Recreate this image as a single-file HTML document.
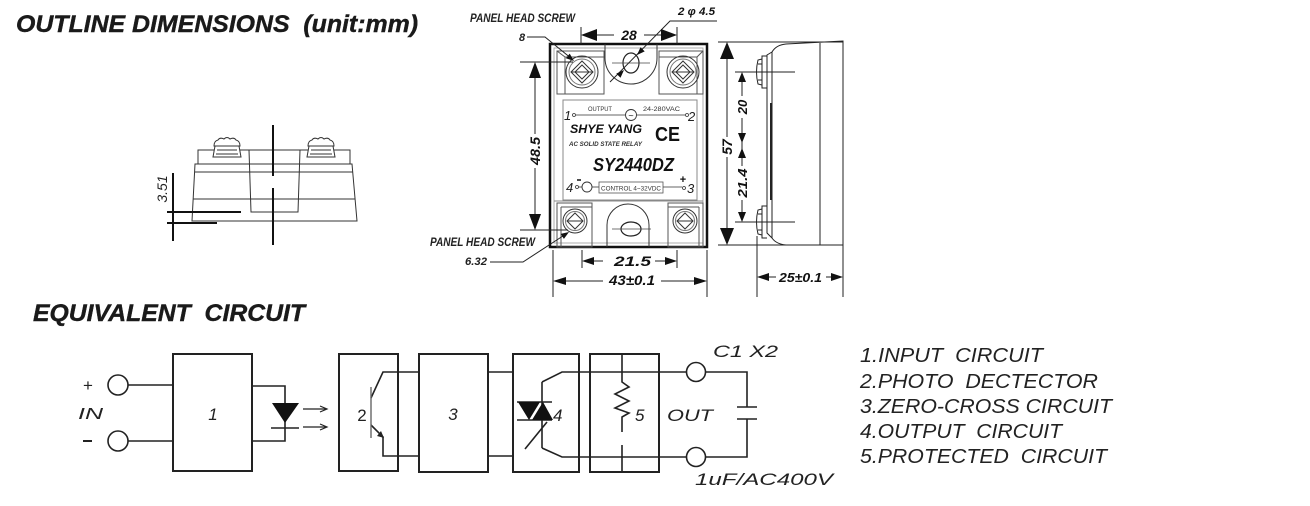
<!DOCTYPE html>
<html><head><meta charset="utf-8"><style>
html,body{margin:0;padding:0;background:#fff;}
svg{display:block;}
text{white-space:pre;}
</style></head><body>
<svg width="1310" height="506" viewBox="0 0 1310 506" xmlns="http://www.w3.org/2000/svg" font-family="'Liberation Sans', Arial, sans-serif">
<rect width="1310" height="506" fill="#fff"/>

<!-- Titles -->
<text x="16" y="32" font-size="24" font-weight="bold" font-style="italic" fill="#1a1a1a" stroke="#1a1a1a" stroke-width="0.4" textLength="402" lengthAdjust="spacingAndGlyphs">OUTLINE DIMENSIONS  (unit:mm)</text>
<text x="33" y="321" font-size="24" font-weight="bold" font-style="italic" fill="#1a1a1a" stroke="#1a1a1a" stroke-width="0.4" textLength="272" lengthAdjust="spacingAndGlyphs">EQUIVALENT  CIRCUIT</text>

<!-- ===== Left side view ===== -->
<g fill="none" stroke="#333" stroke-width="1">
  <path d="M198,164 L198,150 L350,150 L350,164"/>
  <path d="M195,164 L352,164 L357,221 L192,221 Z"/>
  <path d="M195,172 L353,172"/>
  <path d="M193,199 L355,199"/>
  <path d="M249,150 L251,212 L298,212 L300,150"/>
</g>
<g fill="#fff" stroke="#333" stroke-width="1">
  <g transform="translate(227,137)">
    <path d="M-12,9 L-14,20 L14,20 L12,9 Z"/>
    <path d="M-10,13 L10,13 M-11,17 L11,17"/>
    <path d="M-13,9 Q-13,4 -9,3 Q-7,0 -3,2 Q0,-1 3,2 Q7,0 9,3 Q13,4 13,9 Z"/>
  </g>
  <g transform="translate(321,137)">
    <path d="M-12,9 L-14,20 L14,20 L12,9 Z"/>
    <path d="M-10,13 L10,13 M-11,17 L11,17"/>
    <path d="M-13,9 Q-13,4 -9,3 Q-7,0 -3,2 Q0,-1 3,2 Q7,0 9,3 Q13,4 13,9 Z"/>
  </g>
</g>
<g stroke="#111" stroke-width="2">
  <line x1="273" y1="125" x2="273" y2="176"/>
  <line x1="273" y1="188" x2="273" y2="245"/>
  <line x1="167" y1="212" x2="241" y2="212"/>
  <line x1="167" y1="223" x2="217" y2="223"/>
  <line x1="173" y1="173" x2="173" y2="241"/>
</g>
<text transform="translate(167,189) rotate(-90)" text-anchor="middle" font-size="14" font-style="italic" fill="#222">3.51</text>

<!-- ===== Front view ===== -->
<rect x="550" y="44" width="157" height="203" fill="none" stroke="#111" stroke-width="2.5"/>
<rect x="554" y="48" width="149" height="195" fill="none" stroke="#999" stroke-width="0.8"/>

<!-- top blocks -->
<g fill="none" stroke="#555" stroke-width="1">
  <rect x="557" y="51" width="47" height="43"/>
  <path d="M557,51 L565,57 L565,94 M565,57 L604,57"/>
  <rect x="659" y="51" width="44" height="43"/>
  <path d="M703,51 L697,57 L697,94 M659,57 L697,57"/>
</g>
<!-- top tab -->
<path d="M605,44 L605,58 A26,26 0 0 0 657,58 L657,44" fill="none" stroke="#333" stroke-width="1"/>
<ellipse cx="631" cy="63" rx="8" ry="10" fill="none" stroke="#222" stroke-width="1.2"/>
<line x1="612" y1="63" x2="650" y2="63" stroke="#444" stroke-width="0.8"/>

<!-- top screws -->
<g fill="none" stroke="#333" stroke-width="1">
  <g transform="translate(582,72)">
    <circle r="16"/><circle r="13" stroke="#777"/>
    <path d="M0,-11 L11,0 L0,11 L-11,0 Z M-11,0 L11,0 M0,-7 L7,0 L0,7 L-7,0 Z"/>
  </g>
  <g transform="translate(683,72)">
    <circle r="16"/><circle r="13" stroke="#777"/>
    <path d="M0,-11 L11,0 L0,11 L-11,0 Z M-11,0 L11,0 M0,-7 L7,0 L0,7 L-7,0 Z"/>
  </g>
</g>

<!-- label panel -->
<rect x="563" y="100" width="134" height="100" fill="none" stroke="#888" stroke-width="1"/>
<text x="564" y="120" font-size="13" fill="#222" font-style="italic">1</text>
<circle cx="574" cy="115" r="1.5" fill="none" stroke="#333" stroke-width="0.8"/>
<line x1="576" y1="115" x2="625" y2="115" stroke="#333" stroke-width="0.8"/>
<text x="588" y="111" font-size="6.5" fill="#333" textLength="24" lengthAdjust="spacingAndGlyphs">OUTPUT</text>
<circle cx="631" cy="115" r="5.5" fill="none" stroke="#333" stroke-width="0.9"/>
<text x="631" y="118.5" font-size="9" text-anchor="middle" fill="#222">~</text>
<line x1="637" y1="115" x2="685" y2="115" stroke="#333" stroke-width="0.8"/>
<text x="643" y="111" font-size="6.5" fill="#333" textLength="37" lengthAdjust="spacingAndGlyphs">24-280VAC</text>
<circle cx="687" cy="115" r="1.5" fill="none" stroke="#333" stroke-width="0.8"/>
<text x="688" y="121" font-size="13" fill="#222" font-style="italic">2</text>
<text x="570" y="133" font-size="12" font-weight="bold" font-style="italic" fill="#111" textLength="72" lengthAdjust="spacingAndGlyphs">SHYE YANG</text>
<text x="655" y="141" font-size="20" font-weight="bold" fill="#111" textLength="25" lengthAdjust="spacingAndGlyphs">CE</text>
<text x="569" y="146" font-size="6.3" font-weight="bold" font-style="italic" fill="#333" textLength="73" lengthAdjust="spacingAndGlyphs">AC SOLID STATE RELAY</text>
<text x="593" y="171" font-size="18" font-weight="bold" font-style="italic" fill="#111" textLength="81" lengthAdjust="spacingAndGlyphs">SY2440DZ</text>
<text x="566" y="192" font-size="13" fill="#222" font-style="italic">4</text>
<line x1="577" y1="180" x2="581" y2="180" stroke="#111" stroke-width="1.5"/>
<circle cx="577" cy="187" r="1.5" fill="none" stroke="#333" stroke-width="0.8"/>
<line x1="578.5" y1="187" x2="582" y2="187" stroke="#333" stroke-width="0.8"/>
<circle cx="587" cy="187" r="5" fill="none" stroke="#333" stroke-width="0.9"/>
<line x1="592" y1="187" x2="599" y2="187" stroke="#333" stroke-width="0.8"/>
<rect x="599" y="182" width="64" height="11" fill="none" stroke="#555" stroke-width="0.8"/>
<text x="601" y="190.5" font-size="6.3" fill="#333" textLength="60" lengthAdjust="spacingAndGlyphs">CONTROL 4~32VDC</text>
<line x1="663" y1="187" x2="682" y2="187" stroke="#333" stroke-width="0.8"/>
<text x="683" y="183" font-size="11" font-weight="bold" text-anchor="middle" fill="#111">+</text>
<circle cx="684" cy="188" r="1.5" fill="none" stroke="#333" stroke-width="0.8"/>
<text x="687" y="193" font-size="13" fill="#222" font-style="italic">3</text>

<!-- bottom blocks -->
<g fill="none" stroke="#555" stroke-width="1">
  <line x1="554" y1="201" x2="703" y2="201" stroke="#888"/>
  <rect x="557" y="203" width="35" height="44"/>
  <path d="M561,207 L561,247 M561,207 L592,207"/>
  <rect x="668" y="203" width="35" height="44"/>
  <path d="M699,207 L699,247 M668,207 L699,207"/>
</g>
<path d="M607,247 L607,225 A21,21 0 0 1 649,225 L649,247" fill="none" stroke="#333" stroke-width="1"/>
<ellipse cx="631" cy="229" rx="10" ry="7" fill="none" stroke="#222" stroke-width="1.2"/>
<line x1="612" y1="229" x2="651" y2="229" stroke="#444" stroke-width="0.8"/>
<g fill="none" stroke="#333" stroke-width="1">
  <g transform="translate(575,221)">
    <circle r="12"/><circle r="9.5" stroke="#777"/>
    <path d="M0,-8 L8,0 L0,8 L-8,0 Z M-8,0 L8,0"/>
  </g>
  <g transform="translate(685,221)">
    <circle r="12"/><circle r="9.5" stroke="#777"/>
    <path d="M0,-8 L8,0 L0,8 L-8,0 Z M-8,0 L8,0"/>
  </g>
</g>

<!-- front view dimensions -->
<g stroke="#222" stroke-width="1" fill="none">
  <line x1="581" y1="27" x2="581" y2="44"/>
  <line x1="677" y1="27" x2="677" y2="44"/>
  <line x1="597" y1="35" x2="661" y2="35"/>
  <polyline points="717,21 670,21 610,82"/>
  <polyline points="527,37 545,37 572,59"/>
  <line x1="520" y1="62" x2="573" y2="62"/>
  <line x1="535" y1="78" x2="535" y2="214"/>
  <line x1="520" y1="230" x2="568" y2="230"/>
  <polyline points="490,262 523,262 566,234"/>
  <line x1="582" y1="250" x2="582" y2="268"/>
  <line x1="677" y1="250" x2="677" y2="268"/>
  <line x1="594" y1="261" x2="665" y2="261"/>
  <line x1="553" y1="250" x2="553" y2="297"/>
  <line x1="707" y1="250" x2="707" y2="297"/>
  <line x1="566" y1="281" x2="694" y2="281"/>
</g>
<g fill="#111">
  <polygon points="581,35 597,29 597,41"/>
  <polygon points="677,35 661,29 661,41"/>
  <polygon points="535,62 529,78 541,78"/>
  <polygon points="535,230 529,214 541,214"/>
  <polygon points="582,261 594,257 594,265"/>
  <polygon points="677,261 665,257 665,265"/>
  <polygon points="553,281 566,277 566,285"/>
  <polygon points="707,281 694,277 694,285"/>
  <polygon points="574,61 565.9,58.2 569.7,53.6"/>
  <polygon points="569,232 563.9,238.9 560.7,233.9"/>
  <polygon points="637,55 644.7,51.4 640.5,47.2"/>
  <polygon points="624,70 620.5,77.8 616.3,73.6"/>
</g>
<rect x="614" y="28" width="30" height="14" fill="#fff"/>
<text x="629" y="40" font-size="14" font-weight="bold" font-style="italic" text-anchor="middle" fill="#111">28</text>
<text x="678" y="15" font-size="11" font-weight="bold" font-style="italic" fill="#111" textLength="37" lengthAdjust="spacingAndGlyphs">2 φ 4.5</text>
<text x="470" y="22" font-size="11.5" font-weight="bold" font-style="italic" fill="#222" textLength="105" lengthAdjust="spacingAndGlyphs">PANEL HEAD SCREW</text>
<text x="519" y="41" font-size="11" font-weight="bold" font-style="italic" fill="#222">8</text>
<rect x="528" y="134" width="15" height="34" fill="#fff"/>
<text transform="translate(540,151) rotate(-90)" text-anchor="middle" font-size="14" font-weight="bold" font-style="italic" fill="#111" textLength="28" lengthAdjust="spacingAndGlyphs">48.5</text>
<text x="430" y="246" font-size="11.5" font-weight="bold" font-style="italic" fill="#222" textLength="105" lengthAdjust="spacingAndGlyphs">PANEL HEAD SCREW</text>
<text x="465" y="265" font-size="11" font-weight="bold" font-style="italic" fill="#222" textLength="22" lengthAdjust="spacingAndGlyphs">6.32</text>
<rect x="603" y="253" width="52" height="15" fill="#fff"/>
<text x="614" y="266" font-size="14" font-weight="bold" font-style="italic" fill="#111" textLength="37" lengthAdjust="spacingAndGlyphs">21.5</text>
<rect x="603" y="273" width="58" height="15" fill="#fff"/>
<text x="609" y="285" font-size="14" font-weight="bold" font-style="italic" fill="#111" textLength="46" lengthAdjust="spacingAndGlyphs">43±0.1</text>

<!-- ===== Right side view ===== -->
<g fill="none" stroke="#222" stroke-width="1">
  <path d="M772,52 Q776,45 786,44 L843,41 L843,245 L786,245 Q776,244 772,238 Z"/>
  <path d="M772,238 L767,233 L767,55 L772,52"/>
  <line x1="820" y1="43" x2="820" y2="245"/>
  <path d="M767,56 L762,56 L762,59 L758,60 Q755,72 758,84 L762,85 L762,88 L767,88 M762,59 L762,85 M758,64 L762,64 M758,80 L762,80"/>
  <path d="M767,206 L762,206 L762,209 L758,210 Q755,222 758,234 L762,235 L762,238 L767,238 M762,209 L762,235 M758,214 L762,214 M758,230 L762,230"/>
  <line x1="718" y1="42" x2="843" y2="42"/>
  <line x1="718" y1="245" x2="843" y2="245"/>
  <line x1="727" y1="59" x2="727" y2="228"/>
  <line x1="735" y1="72" x2="795" y2="72"/>
  <line x1="735" y1="222" x2="795" y2="222"/>
  <line x1="742" y1="82" x2="742" y2="212"/>
  <line x1="757" y1="236" x2="757" y2="297"/>
  <line x1="843" y1="245" x2="843" y2="297"/>
  <line x1="769" y1="277" x2="831" y2="277"/>
</g>
<line x1="771" y1="103" x2="771" y2="200" stroke="#222" stroke-width="2"/>
<g fill="#111">
  <polygon points="727,42 720,59 734,59"/>
  <polygon points="727,245 720,228 734,228"/>
  <polygon points="742,72 738,82 746,82"/>
  <polygon points="742,143 738,133 746,133"/>
  <polygon points="742,148 738,158 746,158"/>
  <polygon points="742,222 738,212 746,212"/>
  <polygon points="757,277 769,273 769,281"/>
  <polygon points="843,277 831,273 831,281"/>
</g>
<rect x="720" y="137" width="14" height="20" fill="#fff"/>
<text transform="translate(732,147) rotate(-90)" text-anchor="middle" font-size="14" font-weight="bold" font-style="italic" fill="#111">57</text>
<rect x="736" y="96" width="13" height="22" fill="#fff"/>
<text transform="translate(747,107) rotate(-90)" text-anchor="middle" font-size="13" font-weight="bold" font-style="italic" fill="#111">20</text>
<rect x="736" y="166" width="13" height="34" fill="#fff"/>
<text transform="translate(747,183) rotate(-90)" text-anchor="middle" font-size="13" font-weight="bold" font-style="italic" fill="#111" textLength="29" lengthAdjust="spacingAndGlyphs">21.4</text>
<rect x="776" y="270" width="50" height="14" fill="#fff"/>
<text x="779" y="282" font-size="13" font-weight="bold" font-style="italic" fill="#111" textLength="43" lengthAdjust="spacingAndGlyphs">25±0.1</text>

<!-- ===== Equivalent circuit ===== -->
<g fill="none" stroke="#222" stroke-width="1.6">
  <circle cx="118" cy="385" r="10"/>
  <circle cx="118" cy="441" r="10"/>
  <line x1="128" y1="385" x2="173" y2="385"/>
  <line x1="128" y1="441" x2="173" y2="441"/>
  <rect x="173" y="354" width="79" height="117" stroke-width="2"/>
  <polyline points="252,386 285,386 285,441 252,441"/>
  <line x1="271" y1="428" x2="299" y2="428"/>
  <rect x="339" y="354" width="59" height="117" stroke-width="2"/>
  <rect x="419" y="354" width="69" height="118" stroke-width="2"/>
  <rect x="513" y="354" width="66" height="118" stroke-width="2"/>
  <rect x="590" y="354" width="69" height="118" stroke-width="2"/>
  <polyline points="371,398 383,372 419,372"/>
  <polyline points="371,425 383,437 383,456 419,456"/>
  <line x1="488" y1="372" x2="513" y2="372"/>
  <line x1="488" y1="456" x2="513" y2="456"/>
  <line x1="542" y1="382" x2="542" y2="448"/>
  <polyline points="542,382 562,372 686,372"/>
  <polyline points="542,448 562,457 686,457"/>
  <line x1="517" y1="402" x2="552" y2="402"/>
  <line x1="517" y1="420" x2="552" y2="420"/>
  <line x1="525" y1="449" x2="547" y2="422"/>
  <polyline points="622,354 622,382 629,387 615,394 629,401 615,408 629,413 622,417 622,432"/>
  <line x1="622" y1="445" x2="622" y2="472"/>
  <circle cx="696" cy="372" r="9.5"/>
  <circle cx="696" cy="457" r="9.5"/>
  <polyline points="706,372 747,372 747,407"/>
  <polyline points="747,419 747,457 706,457"/>
  <line x1="737" y1="407" x2="757" y2="407"/>
  <line x1="737" y1="419" x2="757" y2="419"/>
</g>
<line x1="371" y1="387" x2="371" y2="438" stroke="#666" stroke-width="1.4"/>
<polygon points="384,438 377,436 381,431" fill="#222"/>
<polygon points="272,403 299,403 285,423" fill="#111"/>
<polygon points="518,402 540,402 529,420" fill="#111"/>
<polygon points="532,420 553,420 543,402" fill="#111"/>
<g stroke="#222" stroke-width="1.2" fill="none">
  <line x1="303" y1="409" x2="326" y2="409"/>
  <path d="M320,406 L327,409 L320,412"/>
  <line x1="303" y1="427" x2="326" y2="427"/>
  <path d="M320,424 L327,427 L320,430"/>
</g>
<text x="88" y="391" font-size="17" text-anchor="middle" fill="#222">+</text>
<line x1="83" y1="441" x2="92" y2="441" stroke="#222" stroke-width="2"/>
<text x="78" y="419" font-size="16" font-style="italic" fill="#222" textLength="25" lengthAdjust="spacingAndGlyphs">IN</text>
<text x="213" y="420" font-size="17" font-style="italic" text-anchor="middle" fill="#222">1</text>
<text x="362" y="421" font-size="17" text-anchor="middle" fill="#222">2</text>
<text x="453" y="420" font-size="17" font-style="italic" text-anchor="middle" fill="#222">3</text>
<text x="553" y="421" font-size="17" font-style="italic" fill="#222">4</text>
<text x="635" y="421" font-size="17" font-style="italic" fill="#222">5</text>
<text x="667" y="421" font-size="17" font-style="italic" fill="#222" textLength="46" lengthAdjust="spacingAndGlyphs">OUT</text>
<text x="713" y="357" font-size="16.5" font-style="italic" fill="#222" textLength="65" lengthAdjust="spacingAndGlyphs">C1 X2</text>
<text x="695" y="485" font-size="17" font-style="italic" fill="#222" textLength="138" lengthAdjust="spacingAndGlyphs">1uF/AC400V</text>

<!-- Legend -->
<g font-size="20" font-style="italic" fill="#222">
  <text x="860" y="362" textLength="183" lengthAdjust="spacingAndGlyphs">1.INPUT  CIRCUIT</text>
  <text x="860" y="388" textLength="238" lengthAdjust="spacingAndGlyphs">2.PHOTO  DECTECTOR</text>
  <text x="860" y="413" textLength="252" lengthAdjust="spacingAndGlyphs">3.ZERO-CROSS CIRCUIT</text>
  <text x="860" y="438" textLength="202" lengthAdjust="spacingAndGlyphs">4.OUTPUT  CIRCUIT</text>
  <text x="860" y="463" textLength="247" lengthAdjust="spacingAndGlyphs">5.PROTECTED  CIRCUIT</text>
</g>
</svg>
</body></html>
